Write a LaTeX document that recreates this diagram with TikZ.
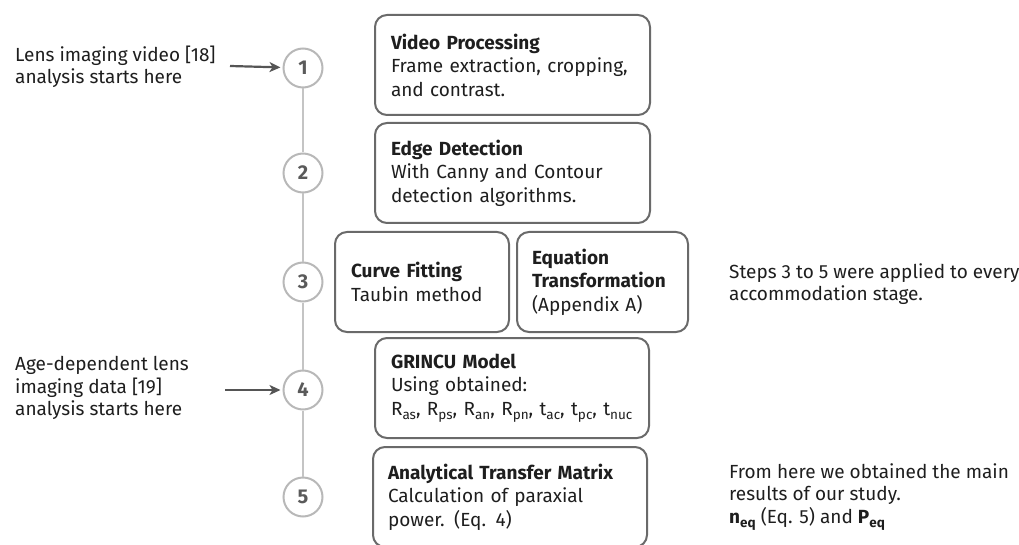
\documentclass[tikz,border=0pt]{standalone}
\usepackage{fontspec}
\setmainfont{Fira Sans}
\usetikzlibrary{arrows.meta}
\definecolor{txt}{HTML}{1E1E1E}
\definecolor{boxc}{HTML}{6A6A6A}
\definecolor{circc}{HTML}{B8B8B8}
\definecolor{numc}{HTML}{5A5A5A}
\definecolor{linec}{HTML}{C4C4C4}
\definecolor{arrc}{HTML}{555555}
\newcommand\sbs[1]{\raisebox{-4.5pt}{\fontsize{13.5}{14}\selectfont #1}}
\begin{document}
\begin{tikzpicture}[x=1pt,y=-1pt,
  box/.style={draw=boxc, line width=2pt, rounded corners=12pt, minimum height=100pt,
    inner xsep=16pt, inner ysep=0pt, align=left, text=txt, font=\fontsize{19}{23.5}\selectfont},
  num/.style={circle, draw=circc, line width=2pt, minimum size=39pt, inner sep=0pt,
    text=numc, font=\fontsize{20}{22}\selectfont\bfseries},
  note/.style={inner sep=0pt, align=left, text=txt, font=\fontsize{19}{22.5}\selectfont, anchor=west},
  vline/.style={draw=linec, line width=1.5pt},
  arr/.style={draw=arrc, line width=2.2pt, -{Stealth[length=11pt,width=10pt,inset=3pt]}, shorten >=2pt}]
\useasboundingbox (0,0) rectangle (1019,545);

% step circles
\node[num] (c1) at (303,68) {1};
\node[num] (c2) at (303,173) {2};
\node[num] (c3) at (303,282) {3};
\node[num] (c4) at (303,390) {4};
\node[num] (c5) at (303,497) {5};
\draw[vline] (c1) -- (c2);
\draw[vline] (c2) -- (c3);
\draw[vline] (c3) -- (c4);
\draw[vline] (c4) -- (c5);

% boxes
\node[box, text width=243pt] (b1) at (512.5,65) {\textbf{Video Processing}\\Frame extraction, cropping,\\and contrast.};
\node[box, text width=243pt] (b2) at (512.5,173) {\textbf{Edge Detection}\\With Canny and Contour\\detection algorithms.};
\node[box, text width=142pt] (b3a) at (422,282) {\textbf{Curve Fitting}\\Taubin method};
\node[box, text width=141pt, inner xsep=15pt] (b3b) at (602.5,282) {\textbf{Equation}\\\textbf{Transformation}\\(Appendix A)};
\node[box, text width=242pt] (b4) at (512,388) {\textbf{GRINCU Model}\\Using obtained:\\\mbox{R\sbs{as}, R\sbs{ps}, R\sbs{an}, R\sbs{pn}, t\sbs{ac}, t\sbs{pc}, t\sbs{nuc}}};
\node[box, text width=244pt, inner xsep=15pt] (b5) at (510,497) {\textbf{Analytical Transfer Matrix}\\Calculation of paraxial\\power. (Eq. 4)};

% side notes
\node[note] (n1) at (15,67) {Lens imaging video [18]\\analysis starts here};
\node[note] (n4) at (15,388) {Age-dependent lens\\imaging data [19]\\analysis starts here};
\node[note] (r3) at (729,284) {Steps 3 to 5 were applied to every\\accommodation stage.};
\node[note] (r5) at (729,497) {From here we obtained the main\\results of our study.\\\textbf{n\sbs{eq}} (Eq. 5) and \textbf{P\sbs{eq}}};

% arrows
\coordinate (s1) at (230,66);
\coordinate (s4) at (225,390);
\draw[arr] (s1) -- (c1);
\draw[arr] (s4) -- (c4);
\end{tikzpicture}
\end{document}
